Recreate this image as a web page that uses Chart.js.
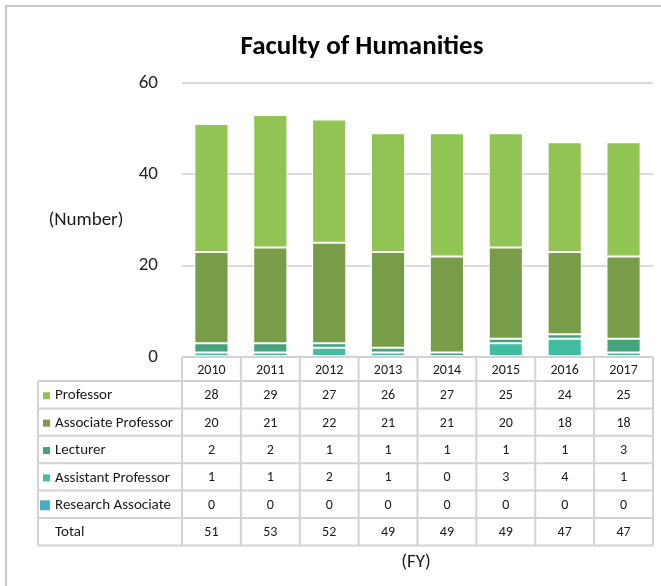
<!DOCTYPE html>
<html>
<head>
<meta charset="utf-8">
<script src="https://cdn.jsdelivr.net/npm/chart.js@4"></script>
<style>
  body { margin: 0; background: #fff; }
  #wrap { width: 661px; height: 586px; }
</style>
</head>
<body>
<div id="wrap"><canvas id="facultyChart" width="661" height="586"></canvas></div>
<script>
const years = ['2010', '2011', '2012', '2013', '2014', '2015', '2016', '2017'];
const professor = [28, 29, 27, 26, 27, 25, 24, 25];
const associateProfessor = [20, 21, 22, 21, 21, 20, 18, 18];
const lecturer = [2, 2, 1, 1, 1, 1, 1, 3];
const assistantProfessor = [1, 1, 2, 1, 0, 3, 4, 1];
const researchAssociate = [0, 0, 0, 0, 0, 0, 0, 0];
const yTicks = [0, 20, 40, 60];

const FONT = 'Carlito, Calibri, Lato, sans-serif';

// table rows, top to bottom (chart stacks them the other way round)
const rows = [
  { label: 'Professor', data: professor, color: '#92c355' },
  { label: 'Associate Professor', data: associateProfessor, color: '#789d48' },
  { label: 'Lecturer', data: lecturer, color: '#45a27b' },
  { label: 'Assistant Professor', data: assistantProfessor, color: '#41bea1' },
  { label: 'Research Associate', data: researchAssociate, color: '#4bacc6' }
];
const totals = years.map((y, i) => rows.reduce((s, r) => s + r.data[i], 0));

const tablePlugin = {
  id: 'dataTable',
  afterDraw(chart) {
    const ctx = chart.ctx;
    const a = chart.chartArea;
    const colW = (a.right - a.left) / years.length;
    const labelLeft = 38;
    const headTop = a.bottom, headH = 24, rowH = 27.4;
    const tableBottom = headTop + headH + rowH * 6;
    ctx.save();

    // outer frame (only left and top show in the crop)
    ctx.strokeStyle = '#c9c9c9';
    ctx.lineWidth = 2;
    ctx.beginPath();
    ctx.moveTo(6, 586); ctx.lineTo(6, 6); ctx.lineTo(661, 6);
    ctx.stroke();

    // title
    ctx.fillStyle = '#000';
    ctx.font = 'bold 27px ' + FONT;
    ctx.textAlign = 'center';
    ctx.textBaseline = 'middle';
    ctx.fillText('Faculty of Humanities', 362, 47);

    // grid of the table
    ctx.strokeStyle = '#d2d2d2';
    ctx.lineWidth = 2;
    ctx.beginPath();
    ctx.moveTo(a.left, headTop); ctx.lineTo(a.right, headTop);
    for (let r = 0; r <= 6; r++) {
      const y = headTop + headH + r * rowH;
      ctx.moveTo(labelLeft, y); ctx.lineTo(a.right, y);
    }
    ctx.moveTo(labelLeft, headTop + headH); ctx.lineTo(labelLeft, tableBottom);
    for (let c = 0; c <= years.length; c++) {
      const x = a.left + c * colW;
      ctx.moveTo(x, headTop); ctx.lineTo(x, tableBottom);
    }
    ctx.stroke();

    ctx.fillStyle = '#1a1a1a';
    ctx.font = '14px ' + FONT;
    years.forEach((y, i) => {
      ctx.fillText(y, a.left + (i + 0.5) * colW, headTop + headH / 2 + 1);
    });

    const allRows = rows.concat([{ label: 'Total', data: totals }]);
    allRows.forEach((row, r) => {
      const cy = headTop + headH + (r + 0.5) * rowH + 1;
      if (row.color) {
        const sz = row.label === 'Research Associate' ? 10 : 7;
        ctx.fillStyle = row.color;
        ctx.fillRect(50 - sz, cy - sz / 2, sz, sz);
      }
      ctx.fillStyle = '#1a1a1a';
      ctx.textAlign = 'left';
      ctx.font = '15px ' + FONT;
      ctx.fillText(row.label, 55, cy);
      ctx.textAlign = 'center';
      ctx.font = '14px ' + FONT;
      row.data.forEach((v, i) => {
        ctx.fillText(String(v), a.left + (i + 0.5) * colW, cy);
      });
    });

    ctx.font = '19px ' + FONT;
    ctx.fillText('(Number)', 86, 220);
    ctx.fillText('(FY)', 416, 562);
    ctx.restore();
  }
};

// stacking goes bottom-up, so reverse the table order
const datasets = rows.slice().reverse().map(r => ({
  label: r.label,
  data: r.data,
  backgroundColor: r.color,
  borderColor: '#ffffff',
  borderWidth: 1,
  borderSkipped: false,
  categoryPercentage: 1,
  barPercentage: 0.58
}));

new Chart(document.getElementById('facultyChart'), {
  type: 'bar',
  data: { labels: years, datasets: datasets },
  options: {
    responsive: false,
    animation: false,
    layout: { padding: { left: 0, right: 8, top: 83, bottom: 229 } },
    plugins: {
      legend: { display: false },
      tooltip: { enabled: false },
      title: { display: false }
    },
    scales: {
      x: { stacked: true, display: false },
      y: {
        stacked: true,
        min: 0,
        max: 60,
        afterBuildTicks(scale) { scale.ticks = yTicks.map(v => ({ value: v })); },
        afterFit(scale) { scale.width = 182; },
        border: { display: false },
        grid: { color: '#d9d9d9', lineWidth: 2, drawTicks: false },
        ticks: { padding: 24, color: '#262626', font: { family: FONT, size: 19 } }
      }
    }
  },
  plugins: [tablePlugin]
});
</script>
</body>
</html>
